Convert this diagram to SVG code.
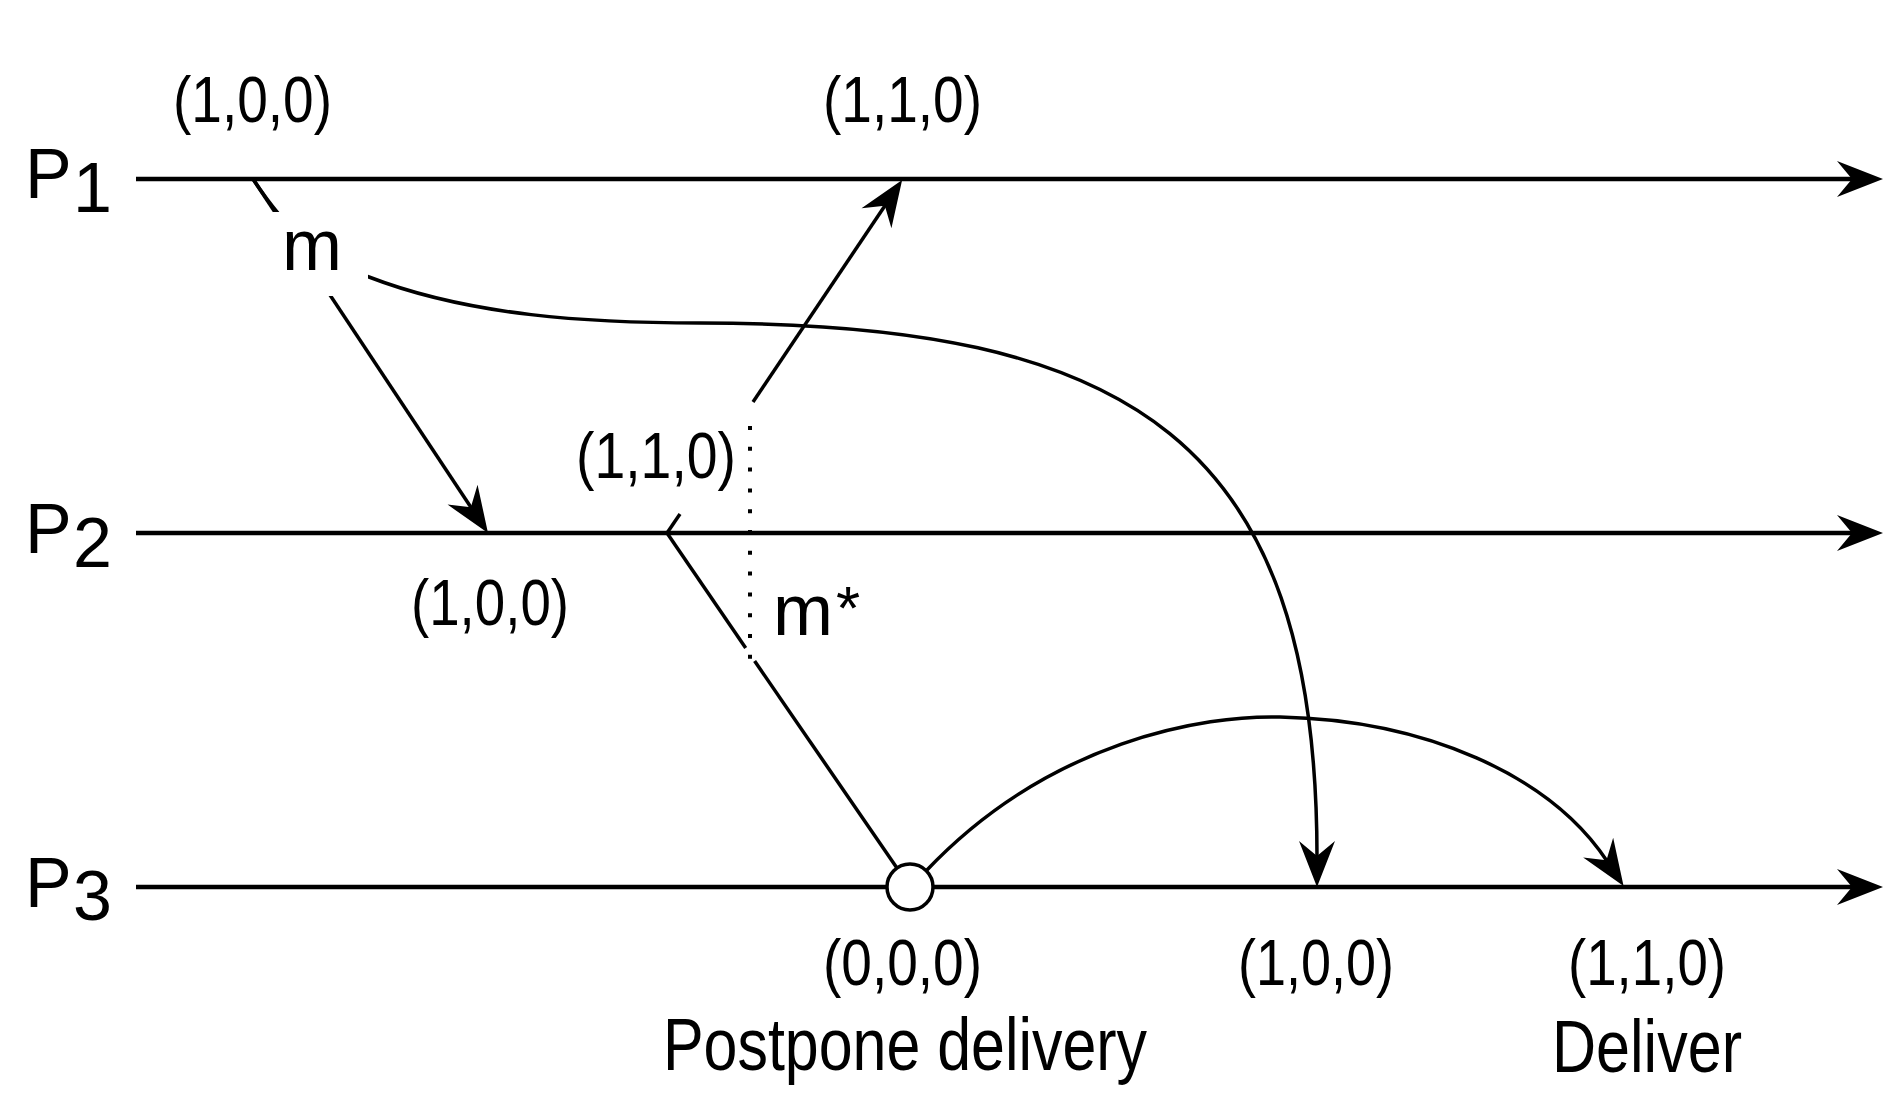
<svg xmlns="http://www.w3.org/2000/svg" width="1886" height="1111" viewBox="0 0 1886 1111">
  <style>
    .axis { stroke: #000; stroke-width: 4.5; fill: none; }
    .msg { stroke: #000; stroke-width: 3.5; fill: none; }
    .dot { stroke: #000; stroke-width: 4; fill: none; stroke-dasharray: 4 16.8; }
    .lbl { font-family: "Liberation Sans", Arial, sans-serif; font-size: 65px; fill: #000; }
    .big { font-family: "Liberation Sans", Arial, sans-serif; font-size: 74px; fill: #000; }
    .pn { font-family: "Liberation Sans", Arial, sans-serif; font-size: 70px; fill: #000; }
    .m { font-family: "Liberation Sans", Arial, sans-serif; font-size: 72px; fill: #000; }
  </style>
  <defs>
    <marker id="arr" markerUnits="userSpaceOnUse" markerWidth="100" markerHeight="100" refX="0" refY="0" orient="auto" overflow="visible" viewBox="-50 -50 100 100">
      <path d="M30,0 L-16,-18 L-1,0 L-16,18 Z" fill="#000"/>
    </marker>
  </defs>
  <rect width="1886" height="1111" fill="#fff"/>

  <g id="P1">
    <line class="axis" x1="136" y1="179" x2="1853" y2="179" marker-end="url(#arr)"/>
    <text class="pn" x="25" y="198">P</text>
    <text class="pn" x="73" y="212" font-size="66">1</text>
  </g>
  <g id="P2">
    <line class="axis" x1="136" y1="533" x2="1853" y2="533" marker-end="url(#arr)"/>
    <text class="pn" x="25" y="553">P</text>
    <text class="pn" x="73" y="567" font-size="66">2</text>
  </g>
  <g id="P3">
    <line class="axis" x1="136" y1="887" x2="1853" y2="887" marker-end="url(#arr)"/>
    <text class="pn" x="25" y="907">P</text>
    <text class="pn" x="73" y="920" font-size="66">3</text>
  </g>

  <g id="connectors">
    <!-- m: P1 -> P2 -->
    <line class="msg" x1="253" y1="179" x2="471.4" y2="508" marker-end="url(#arr)"/>
    <!-- m: P1 -> P3 (curved) -->
    <path class="msg" d="M253,179 C290,235 320,260 369,277 C470,316 590,323 700,323 C1130,323 1317,440 1317,857" marker-end="url(#arr)"/>
    <!-- P2 -> P1 -->
    <line class="msg" x1="667" y1="533" x2="680" y2="514"/>
    <line class="msg" x1="753" y1="402" x2="885.4" y2="205" marker-end="url(#arr)"/>
    <!-- P2 -> P3 (m*) -->
    <line class="msg" x1="667" y1="533" x2="745.7" y2="648"/>
    <line class="msg" x1="754.6" y1="661" x2="910" y2="887"/>
    <!-- delayed delivery at P3 -->
    <path class="msg" d="M926,871 C1050,740 1205,715 1280,717 C1425,720 1550,775 1607,861" marker-end="url(#arr)"/>
    <!-- dotted marker -->
    <line class="dot" x1="750" y1="426" x2="750" y2="660"/>
  </g>

  <g id="label-m">
    <rect x="262" y="212" width="106" height="84" fill="#fff"/>
    <text class="m" x="282" y="270">m</text>
  </g>
  <g id="label-mstar">
    <text class="m" x="773" y="635">m<tspan font-size="62" dx="3" dy="-6">*</tspan></text>
  </g>

  <g id="receipt">
    <circle cx="910" cy="887" r="23" fill="#fff" stroke="#000" stroke-width="3.5"/>
  </g>

  <g id="timestamps">
    <text class="lbl" x="173" y="122" textLength="159" lengthAdjust="spacingAndGlyphs">(1,0,0)</text>
    <text class="lbl" x="823" y="122" textLength="159" lengthAdjust="spacingAndGlyphs">(1,1,0)</text>
    <text class="lbl" x="576" y="478" textLength="160" lengthAdjust="spacingAndGlyphs">(1,1,0)</text>
    <text class="lbl" x="411" y="625" textLength="158" lengthAdjust="spacingAndGlyphs">(1,0,0)</text>
    <text class="lbl" x="823" y="985" textLength="159" lengthAdjust="spacingAndGlyphs">(0,0,0)</text>
    <text class="lbl" x="1238" y="985" textLength="156" lengthAdjust="spacingAndGlyphs">(1,0,0)</text>
    <text class="lbl" x="1568" y="985" textLength="158" lengthAdjust="spacingAndGlyphs">(1,1,0)</text>
  </g>
  <g id="captions">
    <text class="big" x="663" y="1070" textLength="484" lengthAdjust="spacingAndGlyphs">Postpone delivery</text>
    <text class="big" x="1552" y="1072" textLength="190" lengthAdjust="spacingAndGlyphs">Deliver</text>
  </g>
</svg>
